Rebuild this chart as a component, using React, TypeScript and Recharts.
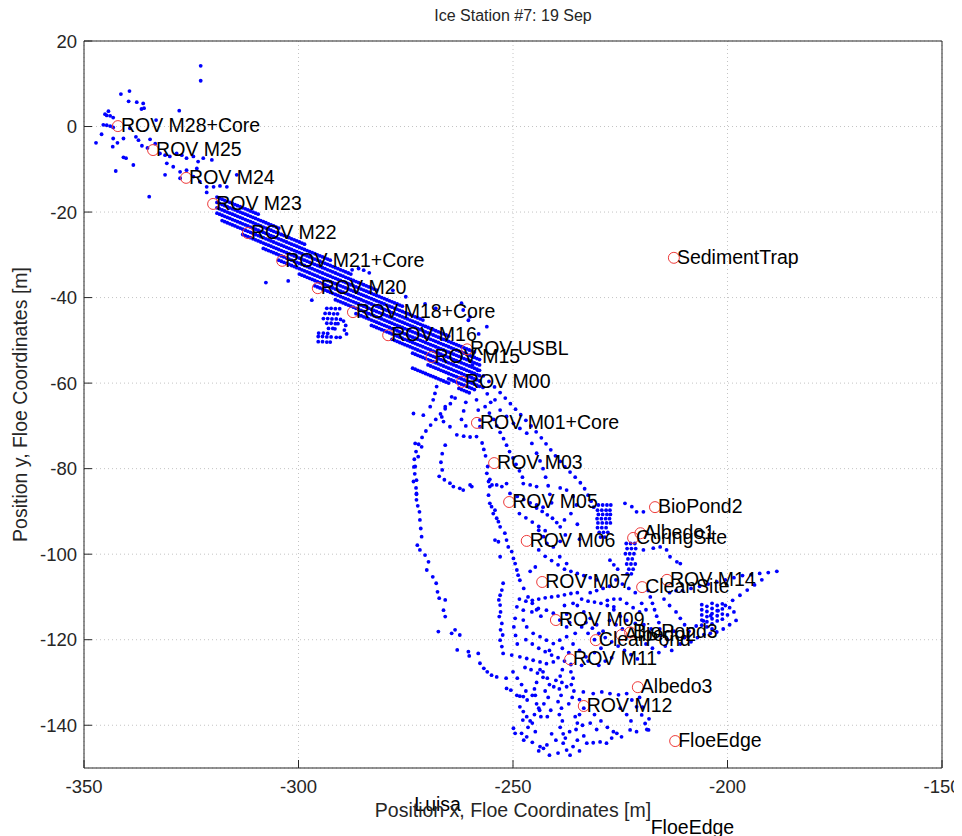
import {
  CartesianGrid,
  Label,
  ReferenceDot,
  Scatter,
  ScatterChart,
  XAxis,
  YAxis,
} from "recharts";

type Pt = [number, number];

const X_TICKS = [-350, -300, -250, -200, -150];
const Y_TICKS = [20, 0, -20, -40, -60, -80, -100, -120, -140];

// ROV / USBL fixes, floe coordinates [m]
const northwestDots: Pt[] = [
  [-322.8, 14.2], [-322.8, 10.7], [-341.4, 7.6], [-339.4, 8.3], [-339.6, 5.9], [-337.7, 5.7], [-336.2, 5.4], [-336.0, 4.3], [-336.6, 4.1], [-327.8, 3.7],
  [-344.3, 3.6], [-345.1, 2.9], [-344.7, 2.6], [-343.9, 2.5], [-343.2, 2.1], [-345.5, 0.4], [-344.7, 0.3], [-343.9, 0.1], [-343.2, -0.2], [-333.2, 1.5],
  [-345.9, -1.8], [-347.2, -3.8], [-343.2, -2.8], [-340.8, -2.8], [-342.2, -3.8], [-343.3, -4.7], [-339.3, -0.4], [-337.9, -2.4], [-337.3, -3.2], [-334.6, -3.0],
  [-333.4, -4.0], [-336.5, -4.5], [-335.2, -5.0], [-340.8, -7.2], [-340.2, -7.4], [-338.5, -9.0], [-342.6, -10.4], [-334.8, -16.4],
  [-332.3, -6.3], [-331.1, -6.7], [-330.0, -7.0], [-328.4, -6.3], [-327.2, -6.7], [-326.1, -7.4], [-324.5, -7.0], [-323.4, -8.2], [-322.2, -7.4], [-320.2, -7.8],
  [-330.7, -8.6], [-329.2, -9.4], [-327.6, -10.6], [-326.1, -10.2], [-323.7, -9.8], [-331.1, -11.3], [-327.6, -12.1], [-324.5, -11.7],
  [-323.0, -12.9], [-321.4, -14.1], [-319.8, -14.1], [-318.3, -13.9], [-316.7, -14.1], [-314.4, -11.3], [-321.4, -15.4],
];

// lawn-mower survey lines along the main diagonal, one row per line
const bandDots: Pt[] = [
  [-319, -16.5], [-318.4, -16.75], [-317.8, -17], [-317.2, -17.25], [-316.6, -17.5], [-316, -17.75], [-315.4, -18], [-314.8, -18.25], [-314.2, -18.5], [-313.6, -18.75], [-313, -19], [-312.4, -19.25], [-311.8, -19.5], [-311.2, -19.75], [-310.6, -20], [-310, -20.25], [-309.4, -20.5],

  [-319, -17.75], [-318.4, -18], [-317.8, -18.25], [-317.2, -18.5], [-316.6, -18.75], [-316, -19], [-315.4, -19.25], [-314.8, -19.5], [-314.2, -19.75], [-313.6, -20], [-313, -20.25], [-312.4, -20.5], [-311.8, -20.75],
  [-311.2, -21], [-310.6, -21.25], [-310, -21.5], [-309.4, -21.75], [-308.8, -22], [-308.2, -22.25], [-307.6, -22.5], [-307, -22.75], [-306.4, -23], [-305.8, -23.25], [-305.2, -23.5], [-304.6, -23.75],

  [-319, -19], [-318.4, -19.25], [-317.8, -19.5], [-317.2, -19.75], [-316.6, -20], [-316, -20.25], [-315.4, -20.5], [-314.8, -20.75], [-314.2, -21], [-313.6, -21.25], [-313, -21.5], [-312.4, -21.75],
  [-311.8, -22], [-311.2, -22.25], [-310.6, -22.5], [-310, -22.75], [-309.4, -23], [-308.8, -23.25], [-308.2, -23.5], [-307.6, -23.75], [-307, -24], [-306.4, -24.25], [-305.8, -24.5], [-305.2, -24.75],
  [-304.6, -25], [-304, -25.25], [-303.4, -25.5], [-302.8, -25.75], [-302.2, -26], [-301.6, -26.25], [-301, -26.5], [-300.4, -26.75], [-299.8, -27], [-299.2, -27.25], [-298.6, -27.5],

  [-319, -20.25], [-318.4, -20.5], [-317.8, -20.75], [-317.2, -21], [-316.6, -21.25], [-316, -21.5], [-315.4, -21.75], [-314.8, -22], [-314.2, -22.25], [-313.6, -22.5], [-313, -22.75], [-312.4, -23],
  [-311.8, -23.25], [-311.2, -23.5], [-310.6, -23.75], [-310, -24], [-309.4, -24.25], [-308.8, -24.5], [-308.2, -24.75], [-307.6, -25], [-307, -25.25], [-306.4, -25.5], [-305.8, -25.75], [-305.2, -26],
  [-304.6, -26.25], [-304, -26.5], [-303.4, -26.75], [-302.8, -27], [-302.2, -27.25], [-301.6, -27.5], [-301, -27.75], [-300.4, -28], [-299.8, -28.25], [-299.2, -28.5], [-298.6, -28.75], [-298, -29],
  [-297.4, -29.25], [-296.8, -29.5], [-296.2, -29.75], [-295.6, -30], [-295, -30.25], [-294.4, -30.5], [-293.8, -30.75], [-293.2, -31], [-292.6, -31.25],

  [-317.8, -22], [-317.2, -22.25], [-316.6, -22.5], [-316, -22.75], [-315.4, -23], [-314.8, -23.25], [-314.2, -23.5], [-313.6, -23.75], [-313, -24], [-312.4, -24.25], [-311.8, -24.5], [-311.2, -24.75],
  [-310.6, -25], [-310, -25.25], [-309.4, -25.5], [-308.8, -25.75], [-308.2, -26], [-307.6, -26.25], [-307, -26.5], [-306.4, -26.75], [-305.8, -27], [-305.2, -27.25], [-304.6, -27.5], [-304, -27.75],
  [-303.4, -28], [-302.8, -28.25], [-302.2, -28.5], [-301.6, -28.75], [-301, -29], [-300.4, -29.25], [-299.8, -29.5], [-299.2, -29.75], [-298.6, -30], [-298, -30.25], [-297.4, -30.5], [-296.8, -30.75],
  [-296.2, -31], [-295.6, -31.25], [-295, -31.5], [-294.4, -31.75], [-293.8, -32], [-293.2, -32.25], [-292.6, -32.5], [-292, -32.75], [-291.4, -33], [-290.8, -33.25], [-290.2, -33.5], [-289.6, -33.75],
  [-289, -34], [-288.4, -34.25], [-287.8, -34.5],

  [-313, -25.25], [-312.4, -25.5], [-311.8, -25.75], [-311.2, -26], [-310.6, -26.25], [-310, -26.5], [-309.4, -26.75], [-308.8, -27], [-308.2, -27.25], [-307.6, -27.5], [-307, -27.75], [-306.4, -28],
  [-305.8, -28.25], [-305.2, -28.5], [-304.6, -28.75], [-304, -29], [-303.4, -29.25], [-302.8, -29.5], [-302.2, -29.75], [-301.6, -30], [-301, -30.25], [-300.4, -30.5], [-299.8, -30.75], [-299.2, -31],
  [-298.6, -31.25], [-298, -31.5], [-297.4, -31.75], [-296.8, -32], [-296.2, -32.25], [-295.6, -32.5], [-295, -32.75], [-294.4, -33], [-293.8, -33.25], [-293.2, -33.5], [-292.6, -33.75], [-292, -34],
  [-291.4, -34.25], [-290.8, -34.5], [-290.2, -34.75], [-289.6, -35], [-289, -35.25], [-288.4, -35.5], [-287.8, -35.75], [-287.2, -36], [-286.6, -36.25], [-286, -36.5], [-285.4, -36.75], [-284.8, -37],
  [-284.2, -37.25], [-283.6, -37.5], [-283, -37.75], [-282.4, -38], [-281.8, -38.25],

  [-308.2, -28.5], [-307.6, -28.75], [-307, -29], [-306.4, -29.25], [-305.8, -29.5], [-305.2, -29.75], [-304.6, -30], [-304, -30.25], [-303.4, -30.5], [-302.8, -30.75], [-302.2, -31], [-301.6, -31.25],
  [-301, -31.5], [-300.4, -31.75], [-299.8, -32], [-299.2, -32.25], [-298.6, -32.5], [-298, -32.75], [-297.4, -33], [-296.8, -33.25], [-296.2, -33.5], [-295.6, -33.75], [-295, -34], [-294.4, -34.25],
  [-293.8, -34.5], [-293.2, -34.75], [-292.6, -35], [-292, -35.25], [-291.4, -35.5], [-290.8, -35.75], [-290.2, -36], [-289.6, -36.25], [-289, -36.5], [-288.4, -36.75], [-287.8, -37], [-287.2, -37.25],
  [-286.6, -37.5], [-286, -37.75], [-285.4, -38], [-284.8, -38.25], [-284.2, -38.5], [-283.6, -38.75], [-283, -39], [-282.4, -39.25], [-281.8, -39.5], [-281.2, -39.75], [-280.6, -40], [-280, -40.25],
  [-279.4, -40.5], [-278.8, -40.75], [-278.2, -41], [-277.6, -41.25], [-277, -41.5], [-276.4, -41.75], [-275.8, -42],

  [-304.6, -31.25], [-304, -31.5], [-303.4, -31.75], [-302.8, -32], [-302.2, -32.25], [-301.6, -32.5], [-301, -32.75], [-300.4, -33], [-299.8, -33.25], [-299.2, -33.5], [-298.6, -33.75], [-298, -34],
  [-297.4, -34.25], [-296.8, -34.5], [-296.2, -34.75], [-295.6, -35], [-295, -35.25], [-294.4, -35.5], [-293.8, -35.75], [-293.2, -36], [-292.6, -36.25], [-292, -36.5], [-291.4, -36.75], [-290.8, -37],
  [-290.2, -37.25], [-289.6, -37.5], [-289, -37.75], [-288.4, -38], [-287.8, -38.25], [-287.2, -38.5], [-286.6, -38.75], [-286, -39], [-285.4, -39.25], [-284.8, -39.5], [-284.2, -39.75], [-283.6, -40],
  [-283, -40.25], [-282.4, -40.5], [-281.8, -40.75], [-281.2, -41], [-280.6, -41.25], [-280, -41.5], [-279.4, -41.75], [-278.8, -42], [-278.2, -42.25], [-277.6, -42.5], [-277, -42.75], [-276.4, -43],
  [-275.8, -43.25], [-275.2, -43.5], [-274.6, -43.75], [-274, -44], [-273.4, -44.25], [-272.8, -44.5], [-272.2, -44.75], [-271.6, -45], [-271, -45.25],

  [-299.8, -34.5], [-299.2, -34.75], [-298.6, -35], [-298, -35.25], [-297.4, -35.5], [-296.8, -35.75], [-296.2, -36], [-295.6, -36.25], [-295, -36.5], [-294.4, -36.75], [-293.8, -37], [-293.2, -37.25],
  [-292.6, -37.5], [-292, -37.75], [-291.4, -38], [-290.8, -38.25], [-290.2, -38.5], [-289.6, -38.75], [-289, -39], [-288.4, -39.25], [-287.8, -39.5], [-287.2, -39.75], [-286.6, -40], [-286, -40.25],
  [-285.4, -40.5], [-284.8, -40.75], [-284.2, -41], [-283.6, -41.25], [-283, -41.5], [-282.4, -41.75], [-281.8, -42], [-281.2, -42.25], [-280.6, -42.5], [-280, -42.75], [-279.4, -43], [-278.8, -43.25],
  [-278.2, -43.5], [-277.6, -43.75], [-277, -44], [-276.4, -44.25], [-275.8, -44.5], [-275.2, -44.75], [-274.6, -45], [-274, -45.25], [-273.4, -45.5], [-272.8, -45.75], [-272.2, -46], [-271.6, -46.25],
  [-271, -46.5], [-270.4, -46.75], [-269.8, -47], [-269.2, -47.25], [-268.6, -47.5], [-268, -47.75], [-267.4, -48], [-266.8, -48.25], [-266.2, -48.5], [-265.6, -48.75], [-265, -49],

  [-296.2, -37.25], [-295.6, -37.5], [-295, -37.75], [-294.4, -38], [-293.8, -38.25], [-293.2, -38.5], [-292.6, -38.75], [-292, -39], [-291.4, -39.25], [-290.8, -39.5], [-290.2, -39.75], [-289.6, -40],
  [-289, -40.25], [-288.4, -40.5], [-287.8, -40.75], [-287.2, -41], [-286.6, -41.25], [-286, -41.5], [-285.4, -41.75], [-284.8, -42], [-284.2, -42.25], [-283.6, -42.5], [-283, -42.75], [-282.4, -43],
  [-281.8, -43.25], [-281.2, -43.5], [-280.6, -43.75], [-280, -44], [-279.4, -44.25], [-278.8, -44.5], [-278.2, -44.75], [-277.6, -45], [-277, -45.25], [-276.4, -45.5], [-275.8, -45.75], [-275.2, -46],
  [-274.6, -46.25], [-274, -46.5], [-273.4, -46.75], [-272.8, -47], [-272.2, -47.25], [-271.6, -47.5], [-271, -47.75], [-270.4, -48], [-269.8, -48.25], [-269.2, -48.5], [-268.6, -48.75], [-268, -49],
  [-267.4, -49.25], [-266.8, -49.5], [-266.2, -49.75], [-265.6, -50], [-265, -50.25], [-264.4, -50.5], [-263.8, -50.75], [-263.2, -51], [-262.6, -51.25], [-262, -51.5], [-261.4, -51.75], [-260.8, -52],
  [-260.2, -52.25], [-259.6, -52.5], [-259, -52.75],

  [-291.4, -40.5], [-290.8, -40.75], [-290.2, -41], [-289.6, -41.25], [-289, -41.5], [-288.4, -41.75], [-287.8, -42], [-287.2, -42.25], [-286.6, -42.5], [-286, -42.75], [-285.4, -43], [-284.8, -43.25],
  [-284.2, -43.5], [-283.6, -43.75], [-283, -44], [-282.4, -44.25], [-281.8, -44.5], [-281.2, -44.75], [-280.6, -45], [-280, -45.25], [-279.4, -45.5], [-278.8, -45.75], [-278.2, -46], [-277.6, -46.25],
  [-277, -46.5], [-276.4, -46.75], [-275.8, -47], [-275.2, -47.25], [-274.6, -47.5], [-274, -47.75], [-273.4, -48], [-272.8, -48.25], [-272.2, -48.5], [-271.6, -48.75], [-271, -49], [-270.4, -49.25],
  [-269.8, -49.5], [-269.2, -49.75], [-268.6, -50], [-268, -50.25], [-267.4, -50.5], [-266.8, -50.75], [-266.2, -51], [-265.6, -51.25], [-265, -51.5], [-264.4, -51.75], [-263.8, -52], [-263.2, -52.25],
  [-262.6, -52.5], [-262, -52.75], [-261.4, -53], [-260.8, -53.25], [-260.2, -53.5], [-259.6, -53.75], [-259, -54], [-258.4, -54.25], [-257.8, -54.5],

  [-286.6, -43.75], [-286, -44], [-285.4, -44.25], [-284.8, -44.5], [-284.2, -44.75], [-283.6, -45], [-283, -45.25], [-282.4, -45.5], [-281.8, -45.75], [-281.2, -46], [-280.6, -46.25], [-280, -46.5],
  [-279.4, -46.75], [-278.8, -47], [-278.2, -47.25], [-277.6, -47.5], [-277, -47.75], [-276.4, -48], [-275.8, -48.25], [-275.2, -48.5], [-274.6, -48.75], [-274, -49], [-273.4, -49.25], [-272.8, -49.5],
  [-272.2, -49.75], [-271.6, -50], [-271, -50.25], [-270.4, -50.5], [-269.8, -50.75], [-269.2, -51], [-268.6, -51.25], [-268, -51.5], [-267.4, -51.75], [-266.8, -52], [-266.2, -52.25], [-265.6, -52.5],
  [-265, -52.75], [-264.4, -53], [-263.8, -53.25], [-263.2, -53.5], [-262.6, -53.75], [-262, -54], [-261.4, -54.25], [-260.8, -54.5], [-260.2, -54.75], [-259.6, -55], [-259, -55.25], [-258.4, -55.5],
  [-257.8, -55.75],

  [-283, -46.5], [-282.4, -46.75], [-281.8, -47], [-281.2, -47.25], [-280.6, -47.5], [-280, -47.75], [-279.4, -48], [-278.8, -48.25], [-278.2, -48.5], [-277.6, -48.75], [-277, -49], [-276.4, -49.25],
  [-275.8, -49.5], [-275.2, -49.75], [-274.6, -50], [-274, -50.25], [-273.4, -50.5], [-272.8, -50.75], [-272.2, -51], [-271.6, -51.25], [-271, -51.5], [-270.4, -51.75], [-269.8, -52], [-269.2, -52.25],
  [-268.6, -52.5], [-268, -52.75], [-267.4, -53], [-266.8, -53.25], [-266.2, -53.5], [-265.6, -53.75], [-265, -54], [-264.4, -54.25], [-263.8, -54.5], [-263.2, -54.75], [-262.6, -55], [-262, -55.25],
  [-261.4, -55.5], [-260.8, -55.75], [-260.2, -56], [-259.6, -56.25], [-259, -56.5], [-258.4, -56.75], [-257.8, -57],

  [-278.2, -49.75], [-277.6, -50], [-277, -50.25], [-276.4, -50.5], [-275.8, -50.75], [-275.2, -51], [-274.6, -51.25], [-274, -51.5], [-273.4, -51.75], [-272.8, -52], [-272.2, -52.25], [-271.6, -52.5],
  [-271, -52.75], [-270.4, -53], [-269.8, -53.25], [-269.2, -53.5], [-268.6, -53.75], [-268, -54], [-267.4, -54.25], [-266.8, -54.5], [-266.2, -54.75], [-265.6, -55], [-265, -55.25], [-264.4, -55.5],
  [-263.8, -55.75], [-263.2, -56], [-262.6, -56.25], [-262, -56.5], [-261.4, -56.75], [-260.8, -57], [-260.2, -57.25], [-259.6, -57.5], [-259, -57.75], [-258.4, -58], [-257.8, -58.25],

  [-273.4, -53], [-272.8, -53.25], [-272.2, -53.5], [-271.6, -53.75], [-271, -54], [-270.4, -54.25], [-269.8, -54.5], [-269.2, -54.75], [-268.6, -55], [-268, -55.25], [-267.4, -55.5], [-266.8, -55.75],
  [-266.2, -56], [-265.6, -56.25], [-265, -56.5], [-264.4, -56.75], [-263.8, -57], [-263.2, -57.25], [-262.6, -57.5], [-262, -57.75], [-261.4, -58], [-260.8, -58.25], [-260.2, -58.5], [-259.6, -58.75],
  [-259, -59], [-258.4, -59.25], [-257.8, -59.5],

  [-269.8, -55.75], [-269.2, -56], [-268.6, -56.25], [-268, -56.5], [-267.4, -56.75], [-266.8, -57], [-266.2, -57.25], [-265.6, -57.5], [-265, -57.75], [-264.4, -58], [-263.8, -58.25], [-263.2, -58.5],
  [-262.6, -58.75], [-262, -59], [-261.4, -59.25], [-260.8, -59.5], [-260.2, -59.75], [-259.6, -60], [-259, -60.25], [-258.4, -60.5], [-257.8, -60.75],

  [-265, -59], [-264.4, -59.25], [-263.8, -59.5], [-263.2, -59.75], [-262.6, -60], [-262, -60.25], [-261.4, -60.5], [-260.8, -60.75], [-260.2, -61], [-259.6, -61.25], [-259, -61.5],

  [-262.6, -61.25], [-262, -61.5], [-261.4, -61.75], [-260.8, -62], [-260.2, -62.25],

  [-273.4, -56.5], [-272.8, -56.75], [-272.2, -57], [-271.6, -57.25], [-271, -57.5], [-270.4, -57.75], [-269.8, -58], [-269.2, -58.25], [-268.6, -58.5], [-268, -58.75], [-267.4, -59], [-266.8, -59.25],
  [-266.2, -59.5], [-265.6, -59.75], [-265, -60],
];

// short legs off the band and stray fixes around it
const legDots: Pt[] = [
  [-293.4, -42.5], [-292.4, -42.5], [-291.4, -42.6], [-290.4, -42.6],
  [-293.8, -43.7], [-292.8, -43.7], [-291.8, -43.8], [-290.9, -43.8],
  [-294.2, -44.9], [-293.2, -44.9], [-292.2, -45], [-291.2, -45], [-290.2, -45.1],
  [-293.4, -46], [-292.4, -46], [-291.4, -46.1], [-290.8, -46.1],
  [-293, -47.2], [-292, -47.2], [-291.5, -47.3],
  [-295.3, -48.3], [-294.2, -48.3], [-293.2, -48.4],
  [-295.4, -49.1], [-294.4, -49.1], [-293.4, -49.2], [-292.4, -49.2], [-291.2, -49.3], [-290.3, -49.3],
  [-295.4, -50.3], [-294.4, -50.3], [-293.4, -50.4], [-292.6, -50.4],
  [-289.5, -45.5], [-289, -46.5], [-289.3, -47.6], [-288.8, -48.5],
  [-307.6, -36.5], [-302.4, -36.1], [-296.9, -40.6],
  [-287.5, -33.5], [-286, -33.2], [-284.8, -33.6], [-283.5, -34.2],
  [-278, -38.3], [-275, -39.8], [-270.5, -41.5], [-268, -42.5], [-262, -41.3], [-260, -44.5], [-256.1, -46.8], [-258, -48.5], [-261.6, -42.9], [-260.4, -45.3],
];

// western loop south of the band
const southLoopDots: Pt[] = [
  [-263.5, -63.5], [-264.6, -64.8], [-265.8, -66], [-266.9, -67.2], [-268, -68.5], [-269.2, -69.8], [-270.3, -71.2], [-271.2, -72.7], [-272, -74.3], [-272.6, -76],
  [-273, -77.8], [-273.1, -79.6], [-272.9, -81.2], [-272.5, -82.7], [-272.6, -84.5], [-272.5, -86], [-272.5, -87.3], [-272.2, -88.7], [-271.8, -90.1], [-271.7, -92], [-271.5, -94],
  [-271.3, -95.9], [-272.3, -97.9], [-271.7, -99], [-270.5, -100.2], [-269.7, -101.8], [-270.1, -103.7], [-268.7, -105.3], [-267.9, -106.8], [-267.6, -108.8], [-267.2, -110.3],
  [-265.8, -110.7], [-266.2, -113.1], [-265.8, -114.6], [-267.4, -118.1], [-264.3, -118.5], [-263.5, -117.7], [-262.4, -118.9], [-263, -122.4], [-260.4, -122.8], [-260.2, -123.8],
  [-258.1, -123.2], [-257.7, -125.5], [-256.8, -126.7], [-256, -127.5], [-255, -128.3], [-253.8, -128.7], [-251.6, -129], [-251.5, -131.4], [-250.5, -131.8], [-249.1, -133],
  [-248.4, -133.2], [-247.6, -133.3], [-246.7, -134.1], [-248.4, -135.7], [-247.6, -136.8], [-246.8, -138], [-247.7, -138.8], [-249.9, -140.7], [-249.5, -141.9], [-248, -141.9],
  [-246.8, -142.7], [-243.7, -145], [-242.9, -145.4], [-242.1, -144.6],
  [-267.8, -60.8], [-268.2, -62.4], [-268.6, -63.9], [-269.3, -65.5], [-270.9, -67.5], [-273.2, -67.1], [-272.8, -74.1], [-271.3, -74.9], [-272.1, -77.2], [-272.8, -79.5],
  [-273.2, -83], [-272.5, -85.8],
  [-265.8, -74.5], [-266.5, -76.5], [-266.8, -78.5], [-266.5, -80.3],
];

// tracks between the band and ROV M05
const centralDots: Pt[] = [
  [-264.3, -63.2], [-265.8, -65.5], [-266.6, -67.9], [-266.2, -69], [-264.7, -70.2], [-263.1, -72.1], [-261.5, -72.4], [-260, -72.6], [-258.5, -72.5],
  [-258.5, -63.9], [-258.1, -66.3], [-257.7, -68.6], [-257.7, -70.2], [-257.2, -74], [-256.8, -75.5], [-256.4, -77], [-255.9, -79.5], [-256.1, -81.1], [-255.4, -82.5],
  [-255.4, -84.2], [-255.7, -86.2], [-255.4, -88.1], [-255, -88.9], [-254.2, -89.7], [-254.6, -90.5], [-253.8, -91.6], [-253.4, -92.4], [-253, -93.6], [-254.2, -96.7],
  [-253.4, -97.1], [-253, -100.6],
  [-264.7, -83.4], [-263.9, -84.2], [-262.4, -84.6], [-261.6, -85], [-260, -83.8], [-259.6, -84.2], [-266, -82.6], [-267.2, -81.8],
  [-252.3, -106.8], [-252.6, -108.4], [-253, -109.6], [-253.3, -110.7], [-253, -111.9], [-252.9, -113.5], [-253.2, -114.6], [-252.6, -116.2], [-252.9, -117.7], [-252.4, -118.9],
  [-253, -120.1], [-252.6, -121.6], [-252.3, -123.2],
  [-251.9, -95.1], [-251.5, -96.7], [-251.1, -98.3], [-250.3, -99.4], [-249.9, -101], [-249.5, -102.2], [-249.1, -103.7], [-248.8, -104.9], [-248.4, -106.1],
  [-259.5, -55.8], [-258.2, -57], [-256.9, -58.3], [-255.6, -59.6], [-254.3, -60.9], [-253, -62.2], [-251.8, -63.5], [-250.6, -64.8], [-249.4, -66.1], [-248.2, -67.4],
  [-247, -68.7], [-245.8, -70], [-244.6, -71.4], [-243.4, -72.8], [-242.3, -74.2], [-241.2, -75.6], [-240.1, -77], [-239, -78.3], [-237.9, -79.6], [-236.7, -80.8],
  [-235.5, -82], [-234.3, -83.3], [-233.3, -84.7], [-232.5, -86.2], [-231.8, -87.6], [-231.2, -89],
  [-254.2, -63.9], [-253, -66.3], [-251.5, -67.8], [-249.9, -69.4], [-248.4, -70.6], [-246.8, -71.7], [-245.6, -74.1], [-244.5, -76.4], [-243.7, -78.2], [-243, -80],
  [-242.4, -82], [-241.8, -84], [-241.4, -86], [-241, -88],
  [-257, -61], [-256, -62.5], [-255.2, -64.5], [-256.5, -65.5], [-255.5, -67], [-254.5, -68.5], [-253.8, -70], [-253, -71.5], [-252.2, -73], [-251.5, -74.5],
  [-250.8, -76], [-250, -77.5], [-249.3, -79], [-248.5, -80.5], [-247.8, -82],
  [-261, -64.5], [-261.5, -66.5], [-262, -68.5], [-261, -70],
  [-255.7, -83], [-254.9, -83.8], [-253.8, -83.8], [-252.6, -84.2], [-251.5, -83.5], [-247.6, -83.5], [-246, -83.8], [-244.5, -84.2],
];

// dense survey south-east of ROV M05
const meshDots: Pt[] = [
  [-250.7, -85.8], [-249, -86.5], [-247.5, -87.2], [-246, -88], [-244.5, -88.5], [-243, -89], [-248.5, -90.5], [-247, -91.5], [-245.5, -92.5], [-244, -93.5],
  [-242.5, -94.5], [-239, -84.5], [-237.5, -85], [-236, -86.5], [-235.2, -88.5], [-236.5, -90.5], [-238, -92], [-235, -93], [-237.8, -95.5], [-239, -97],
  [-234.5, -96.5], [-244, -99], [-242.5, -100.5], [-241, -101.5], [-239.5, -102.5], [-238, -103.5], [-236.5, -104], [-235, -104.5], [-233.5, -105], [-232, -105.5],
  [-230.5, -106], [-247.5, -108], [-246.5, -110], [-245.5, -111.5], [-244.5, -113], [-243.5, -114.5], [-246, -104], [-244.8, -103],
  [-244.5, -89.2], [-243.2, -90], [-242, -90.8], [-240.8, -91.6], [-239.8, -92.6], [-239, -93.6],
  [-244, -94.4], [-242.9, -95.9], [-242.1, -97.5], [-240.6, -98.3], [-239.1, -100.6], [-237.5, -102.2],
  [-230.1, -88.5], [-229.1, -88.5], [-228.1, -88.5], [-227.2, -88.5],
  [-230.3, -89.7], [-229.3, -89.7], [-228.3, -89.7], [-227.4, -89.7],
  [-230.1, -90.7], [-229.1, -90.7], [-228.1, -90.7], [-227.3, -90.7],
  [-230.4, -91.7], [-229.4, -91.7], [-228.4, -91.7], [-227.5, -91.7],
  [-230.2, -92.7], [-229.2, -92.7], [-228.2, -92.7], [-227.3, -92.7],
  [-230.3, -93.8], [-229.3, -93.8], [-228.3, -93.8],
  [-229.9, -94.9], [-228.9, -94.9], [-227.9, -94.9],
  [-229.6, -96], [-228.6, -96],
  [-223.9, -88.1], [-222.3, -88.9], [-221.2, -90.1], [-219.6, -90.1],
  [-223.6, -97.5], [-222.6, -97.5], [-221.6, -97.5],
  [-223.4, -98.7], [-222.4, -98.7], [-221.4, -98.7],
  [-223.8, -99.9], [-222.8, -99.9], [-221.8, -99.9],
  [-223.2, -101.1], [-222.2, -101.1],
  [-223.5, -102.3], [-222.5, -102.3], [-221.5, -102.3],
  [-223, -103.5], [-222, -103.5], [-223.4, -104.6], [-222.4, -104.6],
  [-227.4, -101.4], [-226.5, -102.5], [-225.6, -103.5],
  [-249.1, -112.3], [-247.6, -113.1], [-245.6, -113.5], [-244.1, -112.7], [-242.2, -113.1], [-240.6, -113.8], [-239.1, -115.4], [-237.5, -117], [-247.6, -115.4], [-246.8, -117],
  [-245.3, -118.5], [-243.7, -119.3], [-242.2, -120.1], [-240.6, -120.9], [-239.1, -120.1], [-237.5, -119.3],
  [-250.3, -123.6], [-248.4, -124], [-246.8, -124.4], [-245.3, -124.8], [-243.7, -125.2], [-242.2, -125.6], [-240.6, -125.2],
  [-248.5, -110.5], [-247, -111], [-245.5, -110.8], [-244, -110.5], [-242.5, -110.2], [-241, -110], [-239.5, -109.8], [-238, -109.5], [-236.5, -109.2], [-235, -109],
  [-249.5, -115], [-249.8, -117], [-249.4, -119], [-249, -121],
  [-247, -120], [-245.5, -121], [-244, -122], [-242.5, -122.8], [-241, -123.6], [-239.5, -124.2], [-238, -125], [-236.5, -125.8],
  [-247.2, -126.5], [-245.8, -127], [-244.3, -127.8],
  [-250, -127.5], [-249, -129], [-248, -130.5], [-247, -132], [-245.5, -133],
  [-244.5, -135], [-243.8, -136.5], [-245, -137.5], [-246, -139], [-246.5, -140.5], [-247.5, -143.5], [-245.5, -144], [-244, -146], [-241.5, -147], [-239.5, -146.5],
  [-235, -112], [-233.5, -113.5], [-232, -115], [-230.5, -116.5], [-229, -118], [-234, -117], [-232.5, -118.5], [-231, -120], [-236, -121], [-234.5, -122.5],
  [-233, -124], [-238.5, -122], [-237, -123], [-241.5, -122.5],
  [-234, -110.5], [-232.5, -111], [-231, -111.2], [-229.5, -111.5], [-228, -110.8], [-226.5, -110.5], [-232, -109], [-230.5, -108.5], [-229, -108], [-227.5, -107.5],
  [-233, -116], [-231.5, -117.3], [-230, -118.5], [-228.5, -119.5], [-227, -120.5], [-225.5, -121.5], [-224, -122.5], [-222.5, -123.5], [-221, -124.5],
  [-235.5, -118.5], [-236.8, -116], [-237.5, -114], [-238, -112],
  [-229.5, -122], [-231, -123], [-232.5, -125], [-234, -126], [-230, -126], [-228.5, -125], [-227, -124.2],
  [-226, -116.5], [-227.5, -115.5], [-224.5, -117.5],
  [-238.5, -127], [-239, -128.5], [-238.6, -130], [-239.2, -131.5], [-238.8, -133], [-239.5, -134.5], [-238.7, -136], [-239.2, -137.5], [-238.5, -139], [-239, -140.5],
  [-238.3, -142], [-237.5, -145.8], [-236.7, -147], [-238.3, -144.2],
  [-236.5, -127.5], [-236, -129], [-236.4, -130.5], [-235.8, -132], [-236.2, -133.5], [-235.5, -138], [-235, -139.5], [-235.3, -141],
  [-243, -127.5], [-242, -129], [-241.5, -130.5], [-242.5, -132], [-241.8, -133.5], [-242.8, -135], [-241.2, -136.5], [-242, -138], [-244.5, -130], [-245, -131.5],
  [-244.8, -133], [-243.7, -127], [-243, -128.8], [-240, -129.5], [-240.5, -131], [-244, -136], [-243.5, -138], [-245.5, -139.5], [-244.8, -141.5], [-241, -142],
  [-240, -143.5],
  [-237.5, -131], [-237, -135], [-236.8, -141.5], [-237.8, -143], [-234.5, -134], [-233.5, -136], [-234.5, -137.5], [-233.8, -140], [-233.5, -142.5], [-235, -143.5],
  [-236, -145], [-234.5, -146], [-231, -137.5], [-229.5, -139], [-228, -140.5], [-227, -143], [-230.5, -141], [-232, -139.5],
  [-225, -136], [-223.5, -137.5], [-222.5, -139], [-219.8, -135.8], [-220.5, -133.5], [-218.3, -138.5],
  [-233.6, -132.2], [-231.3, -132.6], [-229.3, -132.2], [-227.4, -132.6], [-225.4, -132.9], [-223.5, -132.6], [-222.3, -134.1], [-221.2, -135.7], [-220, -137.6], [-219.2, -139.6],
  [-218.4, -141.1], [-226.6, -141.5], [-225.8, -141.9], [-224.7, -142.7], [-222.7, -141.1], [-221.2, -141.5], [-218.8, -141], [-232.8, -144.2], [-231.3, -144.1], [-229.7, -143.9],
  [-228.2, -144.2], [-236, -111.5], [-228, -112], [-226.5, -112.3],
];

// eastern lines out towards the floe edge
const eastDots: Pt[] = [
  [-219.6, -99], [-217.3, -98.6], [-215.7, -98.3], [-214.2, -99], [-213.4, -100.6], [-211.8, -101.8], [-211, -102.2],
  [-210.5, -108.5], [-208.5, -108], [-206.5, -107.5], [-204.5, -107], [-202.5, -106.5], [-200.5, -106], [-198.5, -105.5], [-196.5, -105], [-194.5, -104.8], [-192.5, -104.5],
  [-190.5, -104.3], [-188.5, -104],
  [-209, -118], [-207.3, -116.8], [-205.6, -115.6], [-203.9, -114.4], [-202.2, -113.2], [-200.5, -112], [-198.8, -110.8], [-197.1, -109.6], [-195.4, -108.4], [-193.7, -107.2],
  [-192, -106],
  [-206, -111.8], [-206, -113], [-206, -114.2], [-206, -115.4], [-206, -116.6],
  [-204.8, -112.2], [-204.8, -113.4], [-204.8, -114.6], [-204.8, -115.8], [-204.8, -117],
  [-203.6, -111.5], [-203.6, -112.7], [-203.6, -113.9], [-203.6, -115.1], [-203.6, -116.3], [-203.6, -117.5],
  [-202.4, -112], [-202.4, -113.2], [-202.4, -114.4], [-202.4, -115.6],
  [-201.2, -111.6], [-201.2, -112.8], [-201.2, -114], [-201.2, -115.2],
  [-218.5, -108.5], [-218, -110], [-217.5, -111.5], [-217, -113], [-216.5, -114.5], [-216, -116], [-215.8, -117.5], [-215.6, -119],
  [-226, -106], [-224.5, -107], [-223, -108], [-221.5, -109], [-225, -110.5], [-223.5, -111.5], [-222, -112.5], [-220.5, -113.5], [-226.5, -113], [-225, -114.5],
  [-223.5, -115.5], [-221.5, -116.2], [-219.5, -116.5], [-217.8, -117.5], [-213.5, -112], [-212, -113.5], [-211, -115], [-210, -116.5], [-212.5, -118], [-214, -120],
  [-211, -121],
  [-219, -121], [-217.5, -122], [-216, -123], [-214.5, -121.5], [-213, -122.5], [-210, -119.5], [-208.5, -120.5], [-207, -119.5], [-205.5, -118.8], [-204, -118.5],
  [-202.5, -118.2], [-201, -117.5], [-199.5, -116.5], [-198, -115.5], [-220, -111.5], [-219, -113], [-214.8, -110.5], [-213.5, -109], [-212, -108.5],
  [-199.5, -112.5], [-198.5, -113.5], [-200, -114.2],
];

const stationNames = [
  "ROV M28+Core", "ROV M25", "ROV M24", "ROV M23", "ROV M22", "ROV M21+Core", "ROV M20", "ROV M18+Core",
  "ROV M16", "ROV M15", "ROV USBL", "ROV M00", "ROV M01+Core", "ROV M03", "ROV M05", "ROV M06",
  "ROV M07", "ROV M09", "ROV M11", "ROV M12", "SedimentTrap", "BioPond2", "Albedo1", "CoringSite",
  "ROV M14", "CleanSite", "Albedo2", "BioPond3", "ClearPond", "Albedo3", "FloeEdge",
];
const stationX = [
  -342.1, -333.9, -326.2, -319.9, -311.8, -303.8, -295.5, -287.3,
  -279.1, -269.0, -260.7, -261.9, -258.4, -254.4, -250.9, -246.8,
  -243.2, -240.0, -236.7, -233.5, -212.5, -216.9, -220.3, -222.0,
  -214.1, -219.9, -224.7, -222.7, -230.7, -220.9, -212.2,
];
const stationY = [
  0.1, -5.5, -12.0, -18.1, -24.9, -31.4, -37.8, -43.4,
  -48.8, -53.9, -52.1, -59.7, -69.3, -78.7, -87.8, -96.9,
  -106.5, -115.4, -124.6, -135.5, -30.7, -89.0, -95.1, -96.2,
  -106.0, -107.7, -118.9, -118.3, -120.1, -131.1, -143.7,
];

// stations that fall below the axes; only their names are drawn
const offAxisNames = ["Luisa", "FloeEdge"];
const offAxisX = [-273.7, -218.6];
const offAxisY = [-158.4, -163.8];

const FONT = '"Liberation Sans", Arial, Helvetica, sans-serif';
const INK = "#262626";

const track = [
  ...northwestDots,
  ...bandDots,
  ...legDots,
  ...southLoopDots,
  ...centralDots,
  ...meshDots,
  ...eastDots,
].map(([x, y]) => ({ x, y }));

const stations = stationNames.map((name, i) => ({ name, x: stationX[i], y: stationY[i] }));

function TrackDot(props: any) {
  return <circle cx={props.cx} cy={props.cy} r={1.9} fill="#0000ff" />;
}

function StationMark(props: any) {
  const { cx, cy, payload } = props;
  return (
    <g>
      <circle cx={cx} cy={cy} r={5.5} fill="none" stroke="#ee3b3b" strokeWidth={1} />
      <text x={cx + 3} y={cy - 1} dominantBaseline="central" fontSize={19.5} fontFamily={FONT} fill="#000">
        {payload.name}
      </text>
    </g>
  );
}

function OffAxisName({ cx, cy, name }: any) {
  return (
    <text x={cx + 3} y={cy} dominantBaseline="central" fontSize={19.5} fontFamily={FONT} fill="#000">
      {name}
    </text>
  );
}

function YTitle({ viewBox }: any) {
  const cy = viewBox.y + viewBox.height / 2;
  return (
    <text
      x={12}
      y={cy}
      transform={`rotate(-90 12 ${cy})`}
      textAnchor="middle"
      dominantBaseline="central"
      fontSize={19.5}
      fontFamily={FONT}
      fill={INK}
    >
      Position y, Floe Coordinates [m]
    </text>
  );
}

export default function App() {
  const tickStyle = { fill: INK, fontSize: 18.5, fontFamily: FONT };
  return (
    <div style={{ width: 954, height: 828, background: "#fff" }}>
      <ScatterChart width={954} height={828} margin={{ top: 32, right: 19, bottom: 0, left: 0 }}>
        <CartesianGrid stroke="#c4c4c4" strokeDasharray="1 3" />
        <XAxis
          type="number"
          dataKey="x"
          domain={[-350, -150]}
          ticks={X_TICKS}
          interval={0}
          allowDataOverflow
          height={68}
          tickSize={-8}
          tickMargin={20}
          stroke={INK}
          tick={tickStyle}
        >
          <Label
            value="Position x, Floe Coordinates [m]"
            position="insideBottom"
            offset={19}
            fill={INK}
            fontSize={19.5}
            fontFamily={FONT}
          />
        </XAxis>
        <XAxis
          xAxisId="top"
          orientation="top"
          type="number"
          domain={[-350, -150]}
          ticks={X_TICKS}
          interval={0}
          allowDataOverflow
          height={1}
          tickSize={-8}
          tick={false}
          stroke={INK}
        >
          <Label value="Ice Station #7: 19 Sep" position="top" offset={19} fill={INK} fontSize={16} fontFamily={FONT} />
        </XAxis>
        <YAxis
          type="number"
          dataKey="y"
          domain={[-150, 20]}
          ticks={Y_TICKS}
          interval={0}
          allowDataOverflow
          width={76}
          tickSize={-8}
          tickMargin={15}
          stroke={INK}
          tick={tickStyle}
        >
          <Label content={YTitle} />
        </YAxis>
        <YAxis
          yAxisId="right"
          orientation="right"
          type="number"
          domain={[-150, 20]}
          ticks={Y_TICKS}
          interval={0}
          allowDataOverflow
          width={1}
          tickSize={-8}
          tick={false}
          stroke={INK}
        />
        <Scatter data={track} shape={TrackDot} isAnimationActive={false} />
        <Scatter data={stations} shape={StationMark} isAnimationActive={false} />
        {offAxisNames.map((name, i) => (
          <ReferenceDot
            key={name + i}
            x={offAxisX[i]}
            y={offAxisY[i]}
            ifOverflow="visible"
            shape={(p: any) => <OffAxisName {...p} name={name} />}
          />
        ))}
      </ScatterChart>
    </div>
  );
}
